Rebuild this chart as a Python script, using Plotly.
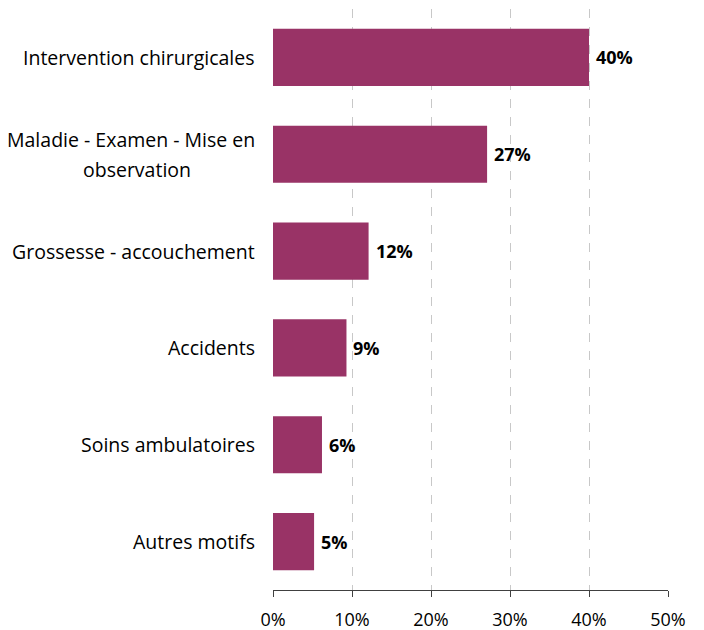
import plotly.graph_objects as go

categories = ["Intervention chirurgicales", "Maladie - Examen - Mise en<br>observation",
              "Grossesse - accouchement", "Accidents", "Soins ambulatoires", "Autres motifs"]
values = [40.0, 27.1, 12.1, 9.3, 6.2, 5.2]
value_labels = ["40%", "27%", "12%", "9%", "6%", "5%"]
tick_vals = [0, 10, 20, 30, 40, 50]
tick_text = ["0%", "10%", "20%", "30%", "40%", "50%"]

FONT = "Open Sans"
W, H = 704, 630
OFF = 8  # page body margin
L, R, T, B = 273 - OFF, 44, 9 - OFF, 48

fig = go.Figure()
fig.add_trace(go.Bar(
    y=list(range(len(categories))), x=values, orientation="h",
    marker=dict(color="#993366", line=dict(width=0)),
    hoverinfo="skip",
))

for i, (v, t) in enumerate(zip(values, value_labels)):
    fig.add_annotation(x=v, xref="x", y=i, yref="y", text=t, showarrow=False,
                       xanchor="left", yanchor="middle", xshift=5,
                       font=dict(family=FONT, size=18, color="black", weight="bold"))

CAT_SIZE = 19.5
for i, c in enumerate(categories):
    lines = c.split("<br>")
    if len(lines) == 1:
        fig.add_annotation(x=0, xref="paper", y=i, yref="y", text=c, showarrow=False,
                           xanchor="right", yanchor="middle", xshift=-16,
                           font=dict(family=FONT, size=CAT_SIZE, color="black"))
    else:
        fig.add_annotation(x=0, xref="paper", y=i, yref="y", text=lines[0], showarrow=False,
                           xanchor="right", yanchor="middle", xshift=-16, yshift=15,
                           font=dict(family=FONT, size=CAT_SIZE, color="black"))
        fig.add_annotation(x=-0.345, xref="paper", y=i, yref="y", text=lines[1], showarrow=False,
                           xanchor="center", yanchor="middle", yshift=-15,
                           font=dict(family=FONT, size=CAT_SIZE, color="black"))

fig.update_layout(
    width=W, height=H,
    margin=dict(l=L, r=R, t=T, b=B),
    paper_bgcolor="white", plot_bgcolor="white",
    bargap=0.41, showlegend=False,
    xaxis=dict(range=[0, 50], tickvals=tick_vals, ticktext=tick_text,
               showgrid=True, gridcolor="#c8c8c8", griddash="dash", gridwidth=1,
               zeroline=False, showline=True, linecolor="#404040", linewidth=1,
               ticks="outside", ticklen=6, tickcolor="#404040", ticklabelstandoff=7,
               tickfont=dict(family=FONT, size=18, color="black")),
    yaxis=dict(range=[len(categories) - 0.5, -0.5], showticklabels=False,
               showgrid=False, zeroline=False, showline=False),
)
fig.write_html("out.html")
